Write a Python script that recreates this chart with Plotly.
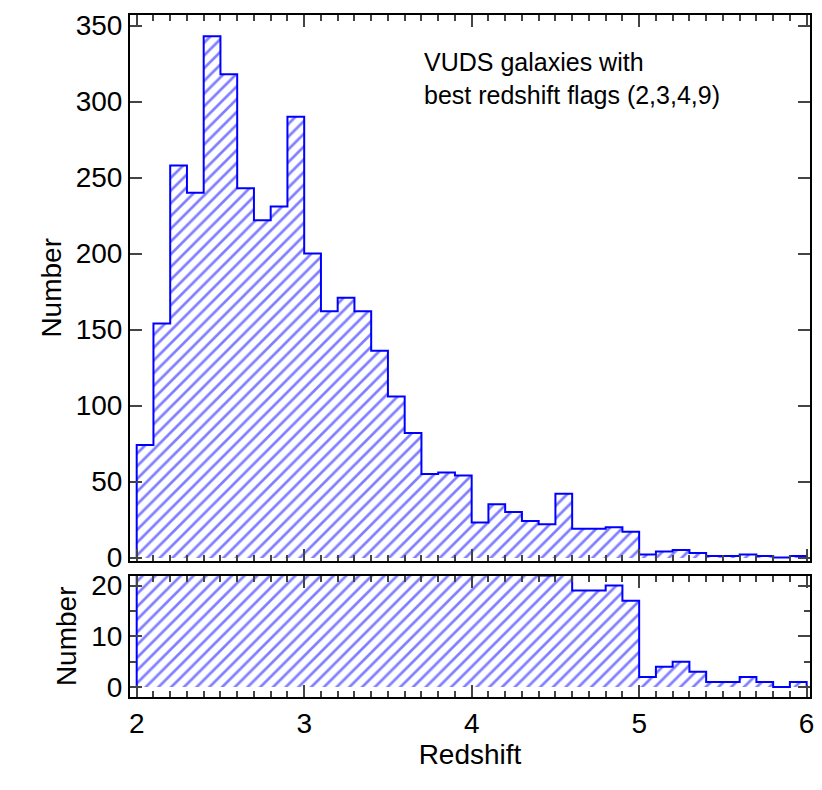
import plotly.graph_objects as go

edges = [round(2.0 + 0.1 * i, 1) for i in range(41)]
counts = [74, 154, 258, 240, 343, 318, 243, 222, 231, 290,
          200, 162, 171, 162, 136, 106, 82, 55, 56, 54,
          23, 35, 30, 24, 22, 42, 19, 19, 20, 17,
          2, 4, 5, 3, 1, 1, 2, 1, 0, 1]
centers = [(edges[i] + edges[i + 1]) / 2 for i in range(40)]
sx, sy = [edges[0]], [0]
for i, c in enumerate(counts):
    sx += [edges[i], edges[i + 1]]
    sy += [c, c]
sx.append(edges[-1]); sy.append(0)

blue = "#0000ff"
fig = go.Figure()
for ya, xa in (("y", "x"), ("y2", "x2")):
    fig.add_trace(go.Bar(x=centers, y=counts, width=0.1, xaxis=xa, yaxis=ya,
                         marker=dict(color="white", line=dict(width=0),
                                     pattern=dict(shape="/", fgcolor=blue, bgcolor="white",
                                                  size=9, solidity=0.3)),
                         showlegend=False, hoverinfo="skip"))
    fig.add_trace(go.Scatter(x=sx, y=sy, mode="lines", xaxis=xa, yaxis=ya,
                             line=dict(color=blue, width=2), showlegend=False))

font = dict(family="Liberation Sans, Arial", size=28, color="black")
ax = dict(showline=True, mirror="allticks", linecolor="black", linewidth=2, ticks="inside",
          ticklen=12, tickwidth=2, showgrid=False, zeroline=False, tickfont=font)
fig.update_layout(
    width=812, height=774, plot_bgcolor="white", paper_bgcolor="white",
    margin=dict(l=122, r=10, t=2, b=85), bargap=0, font=font,
    xaxis=dict(ax, range=[1.96, 6.02], domain=[0, 1], anchor="y", showticklabels=False,
               dtick=1, minor=dict(dtick=0.1, ticks="inside", ticklen=6)),
    yaxis=dict(ax, range=[-2, 357], domain=[0.2, 1], dtick=50,
               title=dict(text="Number", font=font, standoff=6)),
    xaxis2=dict(ax, range=[1.96, 6.02], domain=[0, 1], anchor="y2", dtick=1,
                minor=dict(dtick=0.1, ticks="inside", ticklen=6),
                title=dict(text="Redshift", font=font, standoff=2)),
    yaxis2=dict(ax, range=[-1.96, 21.96], domain=[0, 0.178], dtick=10,
                minor=dict(dtick=5, ticks="inside", ticklen=6),
                title=dict(text="Number", font=font, standoff=6)),
    annotations=[dict(text="VUDS galaxies with<br>best redshift flags (2,3,4,9)",
                      x=0.43, y=0.955, xref="paper", yref="paper", xanchor="left",
                      yanchor="top", align="left", showarrow=False,
                      font=dict(family="Liberation Sans, Arial", size=25, color="black"))],
)
fig.write_html("out.html")
